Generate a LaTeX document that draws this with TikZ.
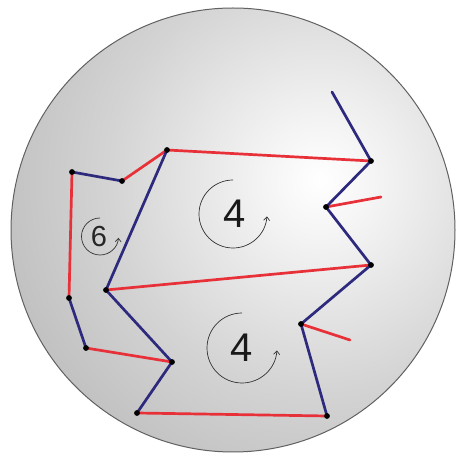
\documentclass[tikz,border=0pt]{standalone}
\usepackage{fontspec}
\setmainfont{Liberation Sans}
\usetikzlibrary{arrows.meta}
\pgfdeclareradialshading{sphereglow}{\pgfpoint{0bp}{0bp}}{color(0bp)=(white); color(4bp)=(white!96!black); color(16bp)=(white!83!black); color(30bp)=(white!71!black); color(50bp)=(white!60!black); color(72bp)=(white!60!black)}
\definecolor{lnblue}{RGB}{45,42,125}
\definecolor{lnred}{RGB}{232,48,56}
\tikzset{
  bl/.style={draw=lnblue, line width=2.7pt, line cap=round, line join=round},
  rd/.style={draw=lnred, line width=2.7pt, line cap=round, line join=round},
  dotmark/.style={fill=black},
  turn/.style={draw=black!80, line width=0.7pt, -{Straight Barb[length=3.5pt,width=6pt]}},
  bignum/.style={font=\fontsize{40}{40}\selectfont, text=black!90},
  smallnum/.style={font=\fontsize{29}{29}\selectfont, text=black!85}
}
\begin{document}
\begin{tikzpicture}[x=1pt,y=1pt]
\useasboundingbox (0,0) rectangle (458,458);
% sphere
\begin{scope}
  \clip (233,228) circle (222pt);
  \shade[shading=sphereglow] (320,278) circle (330pt);
\end{scope}
\draw[black!62, line width=1pt] (233,228) circle (222pt);

% points
\coordinate (A) at (332,366);
\coordinate (B) at (371,297);
\coordinate (C) at (326,251);
\coordinate (Cs) at (381,261);
\coordinate (D) at (371,193);
\coordinate (E) at (301,134);
\coordinate (Es) at (350,118);
\coordinate (F) at (327,42);
\coordinate (G) at (137,45);
\coordinate (H) at (172,96);
\coordinate (I) at (86,110);
\coordinate (J) at (69,160);
\coordinate (K) at (72,286);
\coordinate (L) at (122,277);
\coordinate (M) at (167,308);
\coordinate (N) at (106,168);

% red edges
\draw[rd] (M) -- (B);
\draw[rd] (C) -- (Cs);
\draw[rd] (N) -- (D);
\draw[rd] (E) -- (Es);
\draw[rd] (G) -- (F);
\draw[rd] (I) -- (H);
\draw[rd] (K) -- (J);
\draw[rd] (L) -- (M);
% blue edges
\draw[bl] (A) -- (B);
\draw[bl] (B) -- (C);
\draw[bl] (C) -- (D);
\draw[bl] (D) -- (E);
\draw[bl] (E) -- (F);
\draw[bl] (G) -- (H);
\draw[bl] (H) -- (N);
\draw[bl] (J) -- (I);
\draw[bl] (K) -- (L);
\draw[bl] (M) -- (N);

% dots
\foreach \p in {B,C,D,E,F,G,H,I,J,K,L,M,N}
  \fill[dotmark] (\p) circle (2.9pt);

% labels
\node[bignum] (four1) at (235,244) {4};
\node[bignum] (four2) at (242,110) {4};
\node[smallnum] (six) at (99,221) {6};
\draw[turn] (233,278) arc[start angle=90, end angle=356, radius=34pt];
\draw[turn] (242,145) arc[start angle=90, end angle=356, radius=35pt];
\draw[turn] (100,240) arc[start angle=90, end angle=356, radius=18.5pt];
\end{tikzpicture}
\end{document}
